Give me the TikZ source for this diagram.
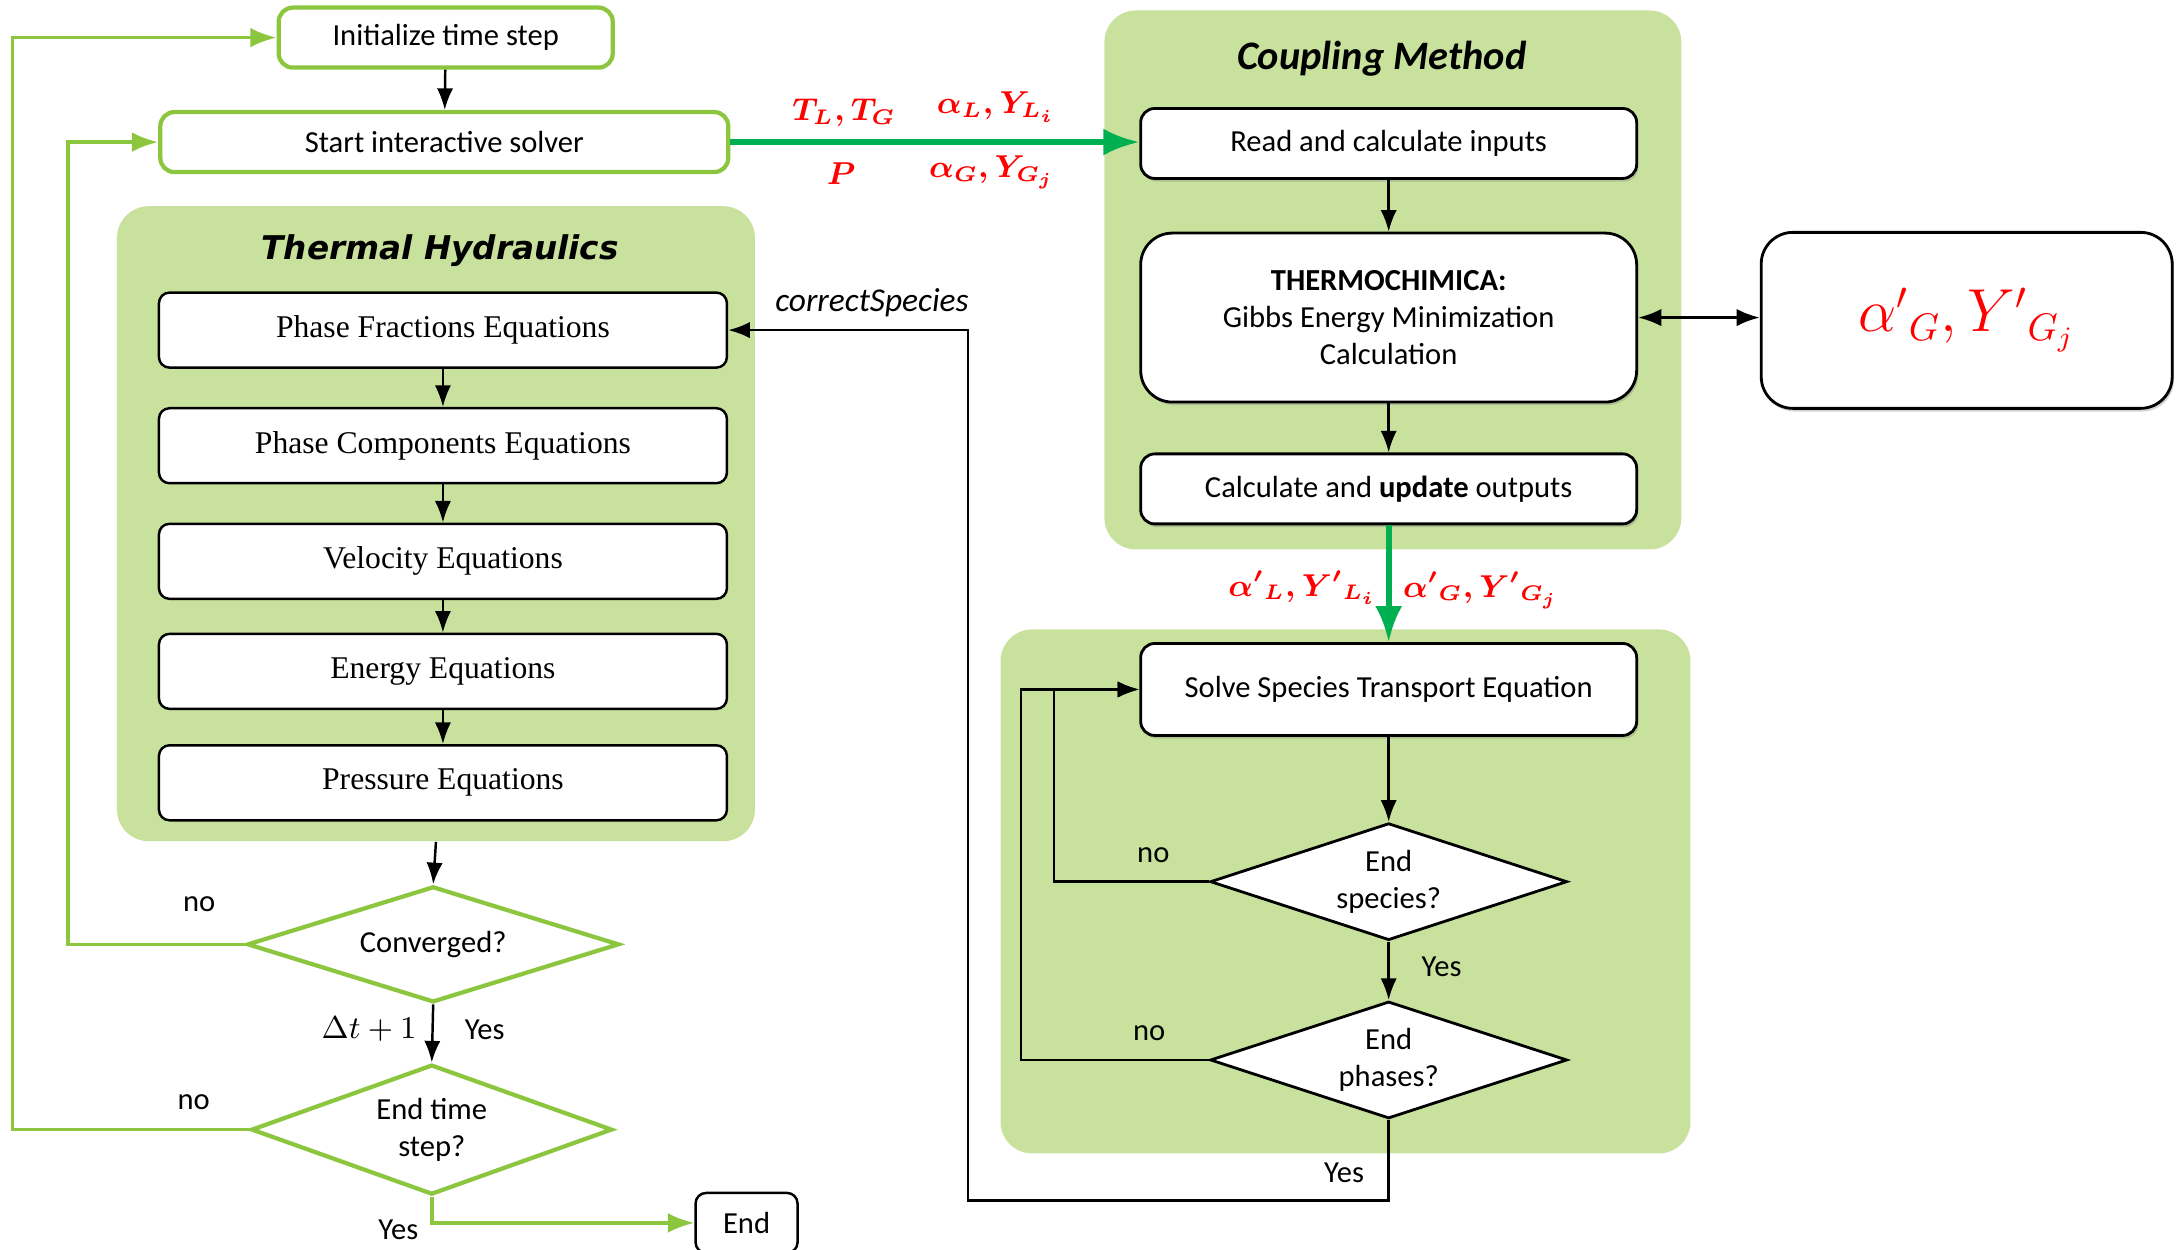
\documentclass[tikz,border=0pt]{standalone}
\usepackage[no-math]{fontspec}
\setmainfont{Carlito}
\newfontfamily\eqfont{Liberation Serif}
\newfontfamily\thfont{DejaVu Sans}
\usetikzlibrary{arrows.meta,positioning,shapes.geometric,shadows,backgrounds}
\definecolor{panel}{HTML}{C8E29E}
\definecolor{lime}{HTML}{8CC63F}
\definecolor{flow}{HTML}{00B050}
\definecolor{mred}{HTML}{FF0000}
\tikzset{
  >=Latex,
  every node/.style={font=\fontsize{8.7}{10.4}\selectfont,text=black},
  panelbox/.style={fill=panel,rounded corners=9pt,inner sep=0pt},
  gbox/.style={draw=lime,line width=1.2pt,rounded corners=4pt,fill=white,minimum height=6mm,align=center},
  eqbox/.style={draw=black,line width=0.7pt,rounded corners=3pt,fill=white,minimum width=56.8mm,minimum height=7.5mm,font=\eqfont\fontsize{9}{11}\selectfont},
  cbox/.style={draw=black,line width=0.8pt,rounded corners=4pt,fill=white,minimum width=49.6mm,minimum height=7mm,align=center,
    drop shadow={shadow xshift=0.5pt,shadow yshift=-0.9pt,opacity=0.35}},
  gdec/.style={diamond,draw=lime,line width=1.2pt,fill=white,inner sep=0pt,align=center},
  bdec/.style={diamond,draw=black,line width=0.8pt,fill=white,inner sep=0pt,align=center,aspect=3.05,minimum width=35.7mm,minimum height=11.7mm},
  arr/.style={->,line width=0.7pt,draw=black},
  loopline/.style={->,line width=1pt,draw=lime},
  flowarr/.style={->,line width=1.6pt,draw=flow},
  mlab/.style={text=mred,font=\boldmath\fontsize{8.8}{10.5}\selectfont},
  tag/.style={font=\fontsize{8.7}{10.4}\selectfont},
}

\begin{document}
\begin{tikzpicture}[x=0.1393mm,y=-0.1393mm]
\useasboundingbox (0,0) rectangle (1568,897);

% panels
\node[panelbox,minimum width=63.8mm,minimum height=63.5mm] (thpanel) at (313,376) {};
\node[panelbox,minimum width=57.7mm,minimum height=53.9mm] (cppanel) at (1000,201) {};
\node[panelbox,minimum width=69mm,minimum height=52.4mm] (sppanel) at (966,640) {};

\node[font=\thfont\bfseries\itshape\fontsize{9.3}{11}\selectfont] (thtitle) at (316,180) {Thermal Hydraulics};
\node[font=\bfseries\itshape\fontsize{11.5}{13}\selectfont] (cptitle) at (992,42) {Coupling Method};

% time loop
\node[gbox,minimum width=33.4mm] (init) at (320,27) {Initialize time step};
\node[gbox,minimum width=56.8mm] (start) at (319,102) {Start interactive solver};

\node[eqbox] (pf) at (318,237) {Phase Fractions Equations};
\node[eqbox] (pc) at (318,320) {Phase Components Equations};
\node[eqbox] (vel) at (318,403) {Velocity Equations};
\node[eqbox] (en) at (318,482) {Energy Equations};
\node[eqbox] (pr) at (318,562) {Pressure Equations};

\node[gdec,aspect=3.2,minimum width=37.2mm,minimum height=11.6mm] (conv) at (311,678) {Converged?};
\node[gdec,aspect=2.78,minimum width=36.1mm,minimum height=13mm] (endt) at (310,811) {End time\\step?};
\node[draw=black,line width=0.7pt,rounded corners=3pt,minimum width=10.2mm,minimum height=6mm] (fin) at (536,878) {End};

% coupling
\node[cbox] (read) at (997,103) {Read and calculate inputs};
\node[cbox,minimum height=16.9mm,rounded corners=9pt] (thermo) at (997,228) {\textbf{THERMOCHIMICA:}\\Gibbs Energy Minimization\\Calculation};
\node[cbox] (calc) at (997,351) {Calculate and \textbf{update} outputs};
\node[cbox,minimum width=41.1mm,minimum height=17.6mm,rounded corners=9pt] (prime) at (1412,230)
  {\textcolor{mred}{\fontsize{16}{19}\selectfont$ {\alpha'}_{G},{Y'}_{G_j}$}};

% species
\node[cbox,minimum height=9.2mm] (solve) at (997,495) {Solve Species Transport Equation};
\node[bdec] (endsp) at (997,633) {End\\species?};
\node[bdec] (endph) at (997,761) {End\\phases?};

% connectors
\draw[arr] (init) -- (start);
\foreach \a/\b in {pf/pc,pc/vel,vel/en,en/pr}
  \draw[arr] (\a) -- (\b);
\draw[arr] (thpanel.south) -- (conv.north);
\draw[arr] (conv.south) -- (endt.north);
\draw[loopline] (conv.west) -- ++(-127,0) |- (start.west);
\draw[loopline] (endt.west) -- ++(-170,0) |- (init.west);
\draw[loopline] (endt.south) |- (fin.west);

\draw[flowarr] (start.east) -- (start.east -| read.west);
\draw[arr] (read) -- (thermo);
\draw[arr] (thermo) -- (calc);
\draw[<->,line width=0.8pt] (thermo.east) -- (thermo.east -| prime.west);
\draw[flowarr] (calc.south) -- (solve.north);

\draw[arr] (solve) -- (endsp);
\draw[arr] (endsp) -- (endph);
\draw[arr] (endsp.west) -- ++(-111,0) |- (solve.west);
\draw[arr] (endph.west) -- ++(-135,0) |- (solve.west);
\draw[arr] (endph.south) -- ++(0,58) -- ++(-302,0) |- (pf.east);

% labels
\node[mlab] (tl) at (606,81) {$T_L,T_G$};
\node[mlab] (al) at (715,77) {$\alpha_L,Y_{L_i}$};
\node[mlab] (pp) at (604,125) {$P$};
\node[mlab] (ag) at (712,124) {$\alpha_G,Y_{G_j}$};
\node[mlab] (apl) at (935,422) {${\alpha'}_{L},{Y'}_{L_i}$};
\node[mlab] (apg) at (1063,424) {${\alpha'}_{G},{Y'}_{G_j}$};
\node[font=\itshape\fontsize{9.5}{11}\selectfont] (cs) at (626,217) {correctSpecies};

\node[tag] (no1) at (143,649) {no};
\node[tag] (no2) at (139,791) {no};
\node[tag] (dt) at (265,739) {$\Delta t + 1$};
\node[tag] (y1) at (348,739) {Yes};
\node[tag] (y2) at (286,883) {Yes};
\node[tag] (no3) at (828,614) {no};
\node[tag] (no4) at (825,742) {no};
\node[tag] (y3) at (1035,694) {Yes};
\node[tag] (y4) at (965,842) {Yes};

\end{tikzpicture}
\end{document}
